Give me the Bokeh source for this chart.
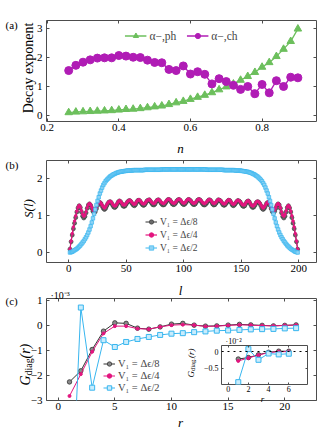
import math
from bokeh.plotting import figure
from bokeh.models import Range1d, LinearAxis, FixedTicker, Label, Legend, LegendItem, Span
from bokeh.layouts import column
from bokeh.embed import file_html
from bokeh.resources import INLINE

FONT = "Liberation Serif"
FRAME = "#4d4d4d"

# ---------------- data: panel (a) ----------------
n_vals = [0.26, 0.28, 0.30, 0.32, 0.34, 0.36, 0.38, 0.40, 0.42, 0.44, 0.46,
          0.48, 0.50, 0.52, 0.54, 0.56, 0.58, 0.60, 0.62, 0.64, 0.66, 0.68,
          0.70, 0.72, 0.74, 0.76, 0.78, 0.80, 0.82, 0.84, 0.86, 0.88, 0.90]
alpha_ph = [0.11, 0.13, 0.14, 0.15, 0.16, 0.17, 0.18, 0.20, 0.22, 0.23, 0.25,
            0.28, 0.31, 0.34, 0.39, 0.45, 0.50, 0.57, 0.64, 0.71, 0.80, 0.90,
            1.00, 1.10, 1.23, 1.36, 1.50, 1.68, 1.84, 2.05, 2.30, 2.57, 3.00]
alpha_ch = [1.56, 1.74, 1.85, 1.93, 1.99, 2.00, 2.00, 2.08, 2.06, 2.02, 2.01,
            1.92, 1.84, 1.83, 1.60, 1.56, 1.72, 1.44, 1.52, 1.43, 1.10, 1.28,
            1.18, 1.05, 0.91, 1.01, 0.76, 1.08, 0.79, 1.21, 1.01, 1.33, 1.31]

# ---------------- data: panel (b) ----------------
l_vals = list(range(1, 200))
S_eighth = [
    0.10, 0.30, 0.48, 0.65, 0.80, 0.95, 1.10, 1.21, 1.27, 1.22,
    1.10, 0.99, 0.94, 0.98, 1.08, 1.20, 1.29, 1.32, 1.28, 1.20,
    1.12, 1.08, 1.11, 1.19, 1.28, 1.34, 1.36, 1.33, 1.26, 1.20,
    1.17, 1.20, 1.27, 1.33, 1.37, 1.38, 1.35, 1.29, 1.24, 1.22,
    1.25, 1.31, 1.37, 1.40, 1.38, 1.33, 1.27, 1.25, 1.27, 1.32,
    1.37, 1.40, 1.41, 1.38, 1.33, 1.29, 1.27, 1.30, 1.36, 1.41,
    1.42, 1.39, 1.34, 1.30, 1.28, 1.30, 1.35, 1.40, 1.42, 1.43,
    1.39, 1.34, 1.30, 1.29, 1.32, 1.38, 1.42, 1.43, 1.40, 1.35,
    1.31, 1.29, 1.30, 1.34, 1.39, 1.43, 1.44, 1.42, 1.37, 1.32,
    1.30, 1.31, 1.35, 1.40, 1.43, 1.44, 1.41, 1.36, 1.32, 1.30,
    1.32, 1.36, 1.41, 1.44, 1.43, 1.40, 1.35, 1.31, 1.30, 1.32,
    1.37, 1.42, 1.44, 1.43, 1.39, 1.34, 1.30, 1.29, 1.31, 1.35,
    1.40, 1.43, 1.42, 1.38, 1.32, 1.29, 1.30, 1.34, 1.39, 1.43,
    1.42, 1.40, 1.35, 1.30, 1.28, 1.30, 1.34, 1.39, 1.42, 1.41,
    1.36, 1.30, 1.27, 1.29, 1.33, 1.38, 1.41, 1.40, 1.37, 1.32,
    1.27, 1.25, 1.27, 1.33, 1.38, 1.40, 1.37, 1.31, 1.25, 1.22,
    1.24, 1.29, 1.35, 1.38, 1.37, 1.33, 1.27, 1.20, 1.17, 1.20,
    1.26, 1.33, 1.36, 1.34, 1.28, 1.19, 1.11, 1.08, 1.12, 1.20,
    1.28, 1.32, 1.29, 1.20, 1.08, 0.98, 0.94, 0.99, 1.10, 1.22,
    1.27, 1.21, 1.10, 0.95, 0.80, 0.65, 0.48, 0.30, 0.10]
S_quarter = [
    0.10, 0.32, 0.52, 0.70, 0.86, 1.00, 1.13, 1.23, 1.28, 1.24,
    1.14, 1.04, 0.99, 1.02, 1.11, 1.22, 1.30, 1.33, 1.30, 1.23,
    1.16, 1.12, 1.15, 1.22, 1.30, 1.35, 1.37, 1.34, 1.29, 1.24,
    1.21, 1.24, 1.30, 1.35, 1.38, 1.39, 1.37, 1.32, 1.28, 1.26,
    1.28, 1.33, 1.38, 1.41, 1.39, 1.35, 1.30, 1.29, 1.30, 1.34,
    1.38, 1.41, 1.42, 1.40, 1.36, 1.32, 1.31, 1.33, 1.38, 1.42,
    1.43, 1.41, 1.37, 1.33, 1.32, 1.33, 1.37, 1.41, 1.43, 1.44,
    1.41, 1.37, 1.34, 1.33, 1.35, 1.40, 1.43, 1.44, 1.42, 1.38,
    1.35, 1.33, 1.34, 1.37, 1.41, 1.44, 1.45, 1.43, 1.39, 1.35,
    1.34, 1.34, 1.37, 1.41, 1.44, 1.45, 1.43, 1.39, 1.35, 1.34,
    1.35, 1.39, 1.43, 1.45, 1.44, 1.41, 1.37, 1.34, 1.34, 1.35,
    1.39, 1.43, 1.45, 1.44, 1.41, 1.37, 1.34, 1.33, 1.35, 1.38,
    1.42, 1.44, 1.43, 1.40, 1.35, 1.33, 1.34, 1.37, 1.41, 1.44,
    1.43, 1.41, 1.37, 1.33, 1.32, 1.33, 1.37, 1.41, 1.43, 1.42,
    1.38, 1.33, 1.31, 1.32, 1.36, 1.40, 1.42, 1.41, 1.38, 1.34,
    1.30, 1.29, 1.30, 1.35, 1.39, 1.41, 1.38, 1.33, 1.28, 1.26,
    1.28, 1.32, 1.37, 1.39, 1.38, 1.35, 1.30, 1.24, 1.21, 1.24,
    1.29, 1.34, 1.37, 1.35, 1.30, 1.22, 1.15, 1.12, 1.16, 1.23,
    1.30, 1.33, 1.30, 1.22, 1.11, 1.02, 0.99, 1.04, 1.14, 1.24,
    1.28, 1.23, 1.13, 1.00, 0.86, 0.70, 0.52, 0.32, 0.10]
S_half = [
    0.01, 0.02, 0.03, 0.05, 0.07, 0.09, 0.11, 0.14, 0.17, 0.20,
    0.24, 0.28, 0.32, 0.37, 0.42, 0.48, 0.55, 0.63, 0.72, 0.82,
    0.93, 1.05, 1.17, 1.29, 1.40, 1.50, 1.60, 1.68, 1.76, 1.83,
    1.88, 1.93, 1.97, 2.00, 2.03, 2.06, 2.08, 2.10, 2.12, 2.13,
    2.15, 2.16, 2.17, 2.18, 2.19, 2.19, 2.20, 2.20, 2.21, 2.21,
    2.22, 2.22, 2.22, 2.22, 2.22, 2.23, 2.23, 2.23, 2.23, 2.23,
    2.23, 2.23, 2.23, 2.23, 2.23, 2.24, 2.24, 2.24, 2.24, 2.24,
    2.24, 2.24, 2.24, 2.24, 2.24, 2.24, 2.24, 2.24, 2.24, 2.24,
    2.25, 2.25, 2.25, 2.25, 2.25, 2.25, 2.25, 2.25, 2.25, 2.25,
    2.25, 2.25, 2.25, 2.25, 2.25, 2.25, 2.25, 2.25, 2.25, 2.25,
    2.25, 2.25, 2.25, 2.25, 2.25, 2.25, 2.25, 2.25, 2.25, 2.25,
    2.25, 2.25, 2.25, 2.25, 2.25, 2.25, 2.25, 2.25, 2.25, 2.24,
    2.24, 2.24, 2.24, 2.24, 2.24, 2.24, 2.24, 2.24, 2.24, 2.24,
    2.24, 2.24, 2.24, 2.24, 2.23, 2.23, 2.23, 2.23, 2.23, 2.23,
    2.23, 2.23, 2.23, 2.23, 2.22, 2.22, 2.22, 2.22, 2.22, 2.21,
    2.21, 2.20, 2.20, 2.19, 2.19, 2.18, 2.17, 2.16, 2.15, 2.13,
    2.12, 2.10, 2.08, 2.06, 2.03, 2.00, 1.97, 1.93, 1.88, 1.83,
    1.76, 1.68, 1.60, 1.50, 1.40, 1.29, 1.17, 1.05, 0.93, 0.82,
    0.72, 0.63, 0.55, 0.48, 0.42, 0.37, 0.32, 0.28, 0.24, 0.20,
    0.17, 0.14, 0.11, 0.09, 0.07, 0.05, 0.03, 0.02, 0.01]

# ---------------- data: panel (c), G_diag in units of 1e-3 ----------------
r_vals = list(range(1, 22))
G_eighth = [-2.26, -1.82, -0.97, -0.24, 0.09, 0.07, -0.12, -0.16, -0.07, 0.04, 0.07,
            0.00, -0.04, -0.03, 0.00, 0.03, 0.01, -0.01, -0.03, -0.01, 0.01]
G_quarter = [-2.82, -1.95, -1.06, -0.33, -0.04, -0.04, -0.14, -0.16, -0.07, 0.00, 0.02,
             0.00, -0.05, -0.04, -0.01, 0.01, 0.00, -0.02, -0.03, -0.01, 0.00]
G_half = [-9.20, 0.70, -2.49, -0.60, -0.87, -0.67, -0.55, -0.47, -0.39, -0.34, -0.32,
          -0.28, -0.25, -0.22, -0.21, -0.19, -0.17, -0.16, -0.15, -0.13, -0.12]
n_inset = 6  # inset shows r = 1..6, axis in units of 1e-2

labels_V = ["V₁ = Δϵ/8", "V₁ = Δϵ/4", "V₁ = Δϵ/2"]
labels_alpha = ["α−,ph", "α−,ch"]

ticks_a_x = [0.2, 0.4, 0.6, 0.8]
ticks_a_y = [0, 1, 2, 3]
ticks_b_x = [0, 50, 100, 150, 200]
ticks_b_y = [0, 1, 2]
ticks_c_x = [0, 5, 10, 15, 20]
ticks_c_y = [-3, -2, -1, 0, 1]
ticks_i_x = [0, 2, 4, 6]
ticks_i_y = [-1, -0.5, 0]

GREEN = "#6cbf5c"
PURPLE = "#b01cb5"
DARK = "#333333"
PINK = "#e3157f"
CYAN = "#38b6ef"

W = 320
H = 432


def make_fig(w, h, xr, yr, bl, br, bt, bb):
    p = figure(width=w, height=h, x_range=Range1d(*xr), y_range=Range1d(*yr),
               output_backend="svg", toolbar_location=None, title=None,
               min_border_left=bl, min_border_right=br,
               min_border_top=bt, min_border_bottom=bb, frame_align=False)
    p.xgrid.visible = False
    p.ygrid.visible = False
    p.outline_line_color = FRAME
    p.outline_line_width = 1
    p.outline_line_alpha = 1
    p.background_fill_color = "white"
    p.border_fill_color = None
    return p


def style_axes(p, xt, yt, size, xo=None, yo=None, sx=2, sy=4, tick=3):
    ax = p.xaxis[0]
    ay = p.yaxis[0]
    ax.ticker = FixedTicker(ticks=xt)
    ay.ticker = FixedTicker(ticks=yt)
    ax.major_label_standoff = sx
    ay.major_label_standoff = sy
    if xo:
        ax.major_label_overrides = xo
    if yo:
        ay.major_label_overrides = yo
    for a in (ax, ay):
        a.axis_line_color = None
        a.major_tick_in = tick
        a.major_tick_out = 0
        a.minor_tick_line_color = None
        a.major_tick_line_color = FRAME
        a.major_label_text_font = FONT
        a.major_label_text_font_size = size
        a.major_label_text_color = "black"
    for ticks, place in ((xt, "above"), (yt, "right")):
        extra = LinearAxis(ticker=FixedTicker(ticks=ticks),
                           major_label_overrides={t: "" for t in ticks},
                           major_label_text_font_size="0px",
                           major_label_standoff=0, major_tick_in=tick,
                           major_tick_out=0, axis_line_color=None,
                           minor_tick_line_color=None,
                           major_tick_line_color=FRAME)
        p.add_layout(extra, place)


def style_legend(leg, size, gw, gh, lh, spacing, standoff):
    leg.label_text_font = FONT
    leg.label_text_font_size = size
    leg.glyph_width = gw
    leg.glyph_height = gh
    leg.label_height = lh
    leg.spacing = spacing
    leg.label_standoff = standoff
    leg.padding = 0
    leg.border_line_alpha = 0
    leg.background_fill_alpha = 0


# ---------------- panel (a) ----------------
pa = make_fig(W, 152, (0.198, 0.952), (-0.2, 3.29), 46, 4, 20, 31)
style_axes(pa, ticks_a_x, ticks_a_y, "11px", sx=2, sy=4)
la1 = pa.line(n_vals, alpha_ph, line_color=GREEN, line_width=1.3)
sa1 = pa.scatter(n_vals, alpha_ph, marker="triangle", size=7.5,
                 fill_color=GREEN, line_color=GREEN)
la2 = pa.line(n_vals, alpha_ch, line_color=PURPLE, line_width=1.3)
sa2 = pa.scatter(n_vals, alpha_ch, marker="circle", size=8,
                 fill_color=PURPLE, line_color=PURPLE)
leg_a = Legend(items=[LegendItem(label=labels_alpha[0], renderers=[la1, sa1]),
                      LegendItem(label=labels_alpha[1], renderers=[la2, sa2])],
               orientation="horizontal", location="top_center", margin=9)
style_legend(leg_a, "11.5px", 22, 13, 13, 10, 3)
pa.add_layout(leg_a)

# ---------------- panel (b) ----------------
pb = make_fig(W, 140, (-19.4, 215.4), (-0.26, 2.49), 46, 4, 8, 30)
style_axes(pb, ticks_b_x, ticks_b_y, "11px", sx=2, sy=4)
lb1 = pb.line(l_vals, S_eighth, line_color=DARK, line_width=1)
sb1 = pb.scatter(l_vals, S_eighth, marker="circle", size=4,
                 fill_color="#6a6a6a", line_color=DARK, line_width=0.6)
lb2 = pb.line(l_vals, S_quarter, line_color=PINK, line_width=1.2)
sb2 = pb.scatter(l_vals, S_quarter, marker="circle", size=2.5,
                 fill_color=PINK, line_color=PINK)
lb3 = pb.line(l_vals, S_half, line_color=CYAN, line_width=1)
sb3 = pb.scatter(l_vals, S_half, marker="square", size=3.5,
                 fill_color="#8fd3f5", line_color=CYAN, line_width=0.7)
leg_b = Legend(items=[LegendItem(label=labels_V[0], renderers=[lb1, sb1]),
                      LegendItem(label=labels_V[1], renderers=[lb2, sb2]),
                      LegendItem(label=labels_V[2], renderers=[lb3, sb3])],
               location=(99, 9))
style_legend(leg_b, "9.5px", 12, 11, 11, 2, 3)
pb.add_layout(leg_b)

# ---------------- panel (c) ----------------
pc = make_fig(W, 140, (-1.03, 22.8), (-3.0, 1.06), 46, 4, 6, 32)
minus_c = {-3: "−3", -2: "−2", -1: "−1"}
style_axes(pc, ticks_c_x, ticks_c_y, "11px", yo=minus_c, sx=2, sy=4)
lc1 = pc.line(r_vals, G_eighth, line_color=DARK, line_width=1)
sc1 = pc.scatter(r_vals, G_eighth, marker="circle", size=4.5,
                 fill_color="#8a8a8a", line_color=DARK, line_width=0.8)
lc2 = pc.line(r_vals, G_quarter, line_color=PINK, line_width=1)
sc2 = pc.scatter(r_vals, G_quarter, marker="circle", size=3,
                 fill_color=PINK, line_color=PINK)
lc3 = pc.line(r_vals, G_half, line_color=CYAN, line_width=1)
sc3 = pc.scatter(r_vals, G_half, marker="square", size=5,
                 fill_color="#c9ecfc", line_color=CYAN, line_width=1)
leg_c = Legend(items=[LegendItem(label=labels_V[0], renderers=[lc1, sc1]),
                      LegendItem(label=labels_V[1], renderers=[lc2, sc2]),
                      LegendItem(label=labels_V[2], renderers=[lc3, sc3])],
               location=(57, 7))
style_legend(leg_c, "10.5px", 12, 11, 11, 1, 3)
pc.add_layout(leg_c)

# ---------------- inset of (c), units of 1e-2 ----------------
pin = make_fig(132, 69, (-0.66, 7.85), (-0.99, 0.18), 43, 3, 14, 16)
pin.margin = (-101, 0, 0, 178)
minus_i = {-1: "−1", -0.5: "−0.5"}
style_axes(pin, ticks_i_x, ticks_i_y, "8px", yo=minus_i, sx=1, sy=3, tick=2)
pin.add_layout(Span(location=0, dimension="width", line_color="black",
                    line_dash="dotted", line_width=1))
ri = r_vals[:n_inset]
gi1 = [g / 10 for g in G_eighth[:n_inset]]
gi2 = [g / 10 for g in G_quarter[:n_inset]]
gi3 = [g / 10 for g in G_half[:n_inset]]
pin.line(ri, gi1, line_color=DARK, line_width=1)
pin.scatter(ri, gi1, marker="circle", size=4.5, fill_color="#8a8a8a",
            line_color=DARK, line_width=0.8)
pin.line(ri, gi2, line_color=PINK, line_width=1)
pin.scatter(ri, gi2, marker="circle", size=3, fill_color=PINK, line_color=PINK)
pin.line(ri, gi3, line_color=CYAN, line_width=1)
pin.scatter(ri, gi3, marker="square", size=5, fill_color="#c9ecfc",
            line_color=CYAN, line_width=1)

# ---------------- transparent text overlay (page pixel coordinates) ----------------
ov = figure(width=W, height=H, x_range=Range1d(0, W), y_range=Range1d(0, H),
            x_axis_type=None, y_axis_type=None, output_backend="svg",
            toolbar_location=None, title=None, min_border=0, frame_align=False)
ov.outline_line_color = None
ov.background_fill_color = None
ov.border_fill_color = None
ov.margin = (-400, 0, 0, 0)


def txt(text, x, y_top, size, angle=0, align="left", baseline="middle",
        style="normal"):
    ov.add_layout(Label(x=x, y=H - y_top, text=text, angle=angle,
                        text_font=FONT, text_font_size=size,
                        text_font_style=style, text_align=align,
                        text_baseline=baseline, text_color="black"))


V = math.pi / 2
# panel letters
txt("(a)", 5, 24, "11px")
txt("(b)", 5, 164, "11px")
txt("(c)", 5, 300, "11px")
# panel (a) axis titles
txt("Decay exponent", 28, 67.5, "14px", angle=V, align="center")
txt("n", 180, 147.5, "13px", align="center", baseline="alphabetic", style="italic")
# panel (b) axis titles
txt("S(l)", 28, 208, "13px", angle=V, align="center", style="italic")
txt("l", 180, 290, "13px", align="center", baseline="alphabetic", style="italic")
# panel (c) axis titles
txt("·10⁻³", 50, 294.5, "10px", baseline="alphabetic")
txt("G", 25, 385, "14px", angle=V, baseline="alphabetic", style="italic")
txt("diag", 28, 375, "10px", angle=V, baseline="alphabetic")
txt("(r)", 25, 358, "14px", angle=V, baseline="alphabetic", style="italic")
txt("r", 180, 421.5, "13px", align="center", baseline="alphabetic", style="italic")
# inset titles
txt("·10⁻²", 225, 341, "8px", baseline="alphabetic")
txt("G", 190, 377, "9px", angle=V, baseline="alphabetic", style="italic")
txt("diag.", 192, 370.5, "6.5px", angle=V, baseline="alphabetic")
txt("(r)", 190, 357.5, "9px", angle=V, baseline="alphabetic", style="italic")
txt("r", 262, 398, "9px", align="center", baseline="alphabetic", style="italic")

layout = column(pa, pb, pc, pin, ov)
open("out.html", "w").write(file_html(layout, INLINE))
